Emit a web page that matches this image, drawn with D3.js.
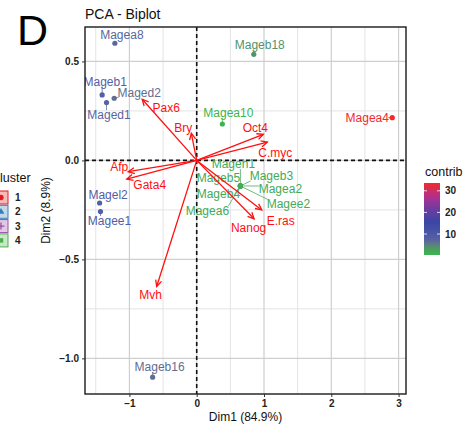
<!DOCTYPE html>
<html><head><meta charset="utf-8">
<script src="https://cdn.jsdelivr.net/npm/d3@7"></script>
<style>body{margin:0;background:#fff} svg{display:block;font-family:"Liberation Sans",Arial,Helvetica,sans-serif}</style>
</head><body><svg id="c" width="466" height="428"></svg>
<script>
// ---------------- data ----------------
const indNames   = ["Magea8","Mageb1","Maged2","Maged1","Magea10","Mageb18","Magea4","Magel2","Magee1","Mageb16",
                    "Mageh1","Mageb5","Mageb3","Magea2","Mageb4","Magee2","Magea6"];
const indDim1    = [-1.216,-1.405,-1.226,-1.34,0.381,0.848,2.906,-1.443,-1.43,-0.655,
                    0.649,0.649,0.649,0.649,0.649,0.649,0.649];
const indDim2    = [0.592,0.331,0.314,0.292,0.184,0.536,0.216,-0.215,-0.258,-1.095,
                    -0.129,-0.129,-0.129,-0.129,-0.129,-0.129,-0.129];
const indContrib = [7.0,8.0,6.2,7.2,0.3,3.9,33.6,8.2,8.1,6.3,1.7,1.7,1.7,1.7,1.7,1.7,1.7];

const varNames = ["Pax6","Bry","Oct4","C.myc","Afp","Gata4","Mvh","E.ras","Nanog"];
const varDim1  = [-0.81,-0.08,0.99,1.05,-1.018,-1.04,-0.595,0.967,0.853];
const varDim2  = [0.309,0.137,0.132,0.092,-0.057,-0.094,-0.637,-0.25,-0.295];

const xTicks = [-1,0,1,2,3];
const yTicks = [-1.0,-0.5,0.0,0.5];
const contribTicks = [10,20,30];
const clusterLevels = ["1","2","3","4"];

// ---------------- layout / style ----------------
const W = 466, H = 428;
const P = {l:85, r:406, t:27, b:394};
const xDom = [-1.66, 3.11], yDom = [-1.18, 0.674];
const gradStops = [
  [0.0,"#3DB54E"],[0.09,"#4A9E62"],[0.17,"#62708F"],[0.22,"#5560A4"],[0.45,"#3A46A4"],
  [0.63,"#6A3CA2"],[0.81,"#B0308E"],[1.0,"#F42A2A"]];
const clusterCols = ["#E41A1C","#377EB8","#984EA3","#4DAF4A"];
// label offsets in px (label centre relative to its point / arrow tip)
const indLabelOff = {
  Magea8:[7,-8.5], Mageb1:[3,-13.5], Maged2:[25,-6], Maged1:[2.5,12],
  Magea10:[6,-11], Mageb18:[6,-10], Magea4:[-25,0.3], Magel2:[8.5,-8], Magee1:[9,9],
  Mageb16:[7,-10], Mageh1:[-7,-22], Mageb5:[-22,-8], Mageb3:[31,-10], Magea2:[40,3],
  Mageb4:[-22,8], Magee2:[48,18], Magea6:[-33,24.5]};
const varLabelOff = {
  Pax6:[24,8], Bry:[-8,-6], Oct4:[-8,-7], "C.myc":[8,10], Afp:[-9,-5],
  Gata4:[23,5.5], Mvh:[-6,8], "E.ras":[19,10.5], Nanog:[-5.5,8.5]};

const svg = d3.select("#c");
const x = d3.scaleLinear().domain(xDom).range([P.l,P.r]);
const y = d3.scaleLinear().domain(yDom).range([P.b,P.t]);

const cmin = d3.min(indContrib), cmax = d3.max(indContrib);
const gradScale = d3.scaleLinear()
  .domain(gradStops.map(s=>cmin + s[0]*(cmax-cmin)))
  .range(gradStops.map(s=>s[1])).interpolate(d3.interpolateRgb);

// clip
svg.append("defs").append("clipPath").attr("id","clip")
  .append("rect").attr("x",P.l).attr("y",P.t).attr("width",P.r-P.l).attr("height",P.b-P.t);

const plot = svg.append("g").attr("clip-path","url(#clip)");

// grid
const xMinor = d3.range(-1.5, 3.6, 1), yMinor = [-1.25,-0.75,-0.25,0.25,0.75];
plot.selectAll(".gxm").data(xMinor).join("line")
  .attr("x1",d=>x(d)).attr("x2",d=>x(d)).attr("y1",P.t).attr("y2",P.b)
  .attr("stroke","#e3e3e3").attr("stroke-width",1);
plot.selectAll(".gym").data(yMinor).join("line")
  .attr("y1",d=>y(d)).attr("y2",d=>y(d)).attr("x1",P.l).attr("x2",P.r)
  .attr("stroke","#e3e3e3").attr("stroke-width",1);
plot.selectAll(".gx").data(xTicks).join("line")
  .attr("x1",d=>x(d)).attr("x2",d=>x(d)).attr("y1",P.t).attr("y2",P.b)
  .attr("stroke","#cfcfcf").attr("stroke-width",1.2);
plot.selectAll(".gy").data(yTicks).join("line")
  .attr("y1",d=>y(d)).attr("y2",d=>y(d)).attr("x1",P.l).attr("x2",P.r)
  .attr("stroke","#cfcfcf").attr("stroke-width",1.2);

// zero lines
plot.append("line").attr("x1",x(0)).attr("x2",x(0)).attr("y1",P.t).attr("y2",P.b)
  .attr("stroke","#111").attr("stroke-width",1.6).attr("stroke-dasharray","4,3");
plot.append("line").attr("y1",y(0)).attr("y2",y(0)).attr("x1",P.l).attr("x2",P.r)
  .attr("stroke","#111").attr("stroke-width",1.6).attr("stroke-dasharray","4,3");

// individuals
const inds = indNames.map((n,i)=>({name:n, d1:indDim1[i], d2:indDim2[i], c:indContrib[i]}));
const segG = plot.append("g");
const ptG = plot.append("g");
const labG = plot.append("g");
inds.forEach(d=>{
  const px = x(d.d1), py = y(d.d2), col = gradScale(d.c);
  ptG.append("circle").attr("cx",px).attr("cy",py).attr("r",2.6).attr("fill",col);
  const off = indLabelOff[d.name];
  const cx = px+off[0], cy = py+off[1];
  const t = labG.append("text").attr("x",cx).attr("y",cy+4.3)
    .attr("text-anchor","middle").attr("font-size",12).attr("fill",col).text(d.name);
  const bb = t.node().getBBox();
  const bx0 = bb.x+1, bx1 = bb.x+bb.width-1, by0 = cy-4.5, by1 = cy+5;
  const nx = Math.max(bx0, Math.min(px, bx1)), ny = Math.max(by0, Math.min(py, by1));
  const dist = Math.hypot(nx-px, ny-py);
  if (dist > 3.5) {
    segG.append("line").attr("x1",px).attr("y1",py).attr("x2",nx).attr("y2",ny)
      .attr("stroke",col).attr("stroke-width",0.9).attr("opacity",0.85);
  }
});

// variables (arrows)
const arrG = plot.append("g");
varNames.forEach((n,i)=>{
  const x0 = x(0), y0 = y(0), x1 = x(varDim1[i]), y1 = y(varDim2[i]);
  const a = Math.atan2(y1-y0, x1-x0), L = 7, ha = Math.PI/7;
  arrG.append("line").attr("x1",x0).attr("y1",y0).attr("x2",x1).attr("y2",y1)
    .attr("stroke","#FF1010").attr("stroke-width",1.3);
  arrG.append("path")
    .attr("d",`M${x1-L*Math.cos(a-ha)},${y1-L*Math.sin(a-ha)}L${x1},${y1}L${x1-L*Math.cos(a+ha)},${y1-L*Math.sin(a+ha)}`)
    .attr("fill","none").attr("stroke","#FF1010").attr("stroke-width",1.3);
  const off = varLabelOff[n];
  arrG.append("text").attr("x",x1+off[0]).attr("y",y1+off[1]+4.3)
    .attr("text-anchor","middle").attr("font-size",12).attr("fill","#FF1010").text(n);
});

// panel border
svg.append("rect").attr("x",P.l).attr("y",P.t).attr("width",P.r-P.l).attr("height",P.b-P.t)
  .attr("fill","none").attr("stroke","#1a1a1a").attr("stroke-width",1.4);

// axes
const xAxis = svg.append("g").attr("transform",`translate(0,${P.b})`)
  .call(d3.axisBottom(x).tickValues(xTicks).tickSize(3).tickPadding(3).tickFormat(d3.format("d")));
const yAxis = svg.append("g").attr("transform",`translate(${P.l},0)`)
  .call(d3.axisLeft(y).tickValues(yTicks).tickSize(3).tickPadding(3).tickFormat(d3.format(".1f")));
[xAxis,yAxis].forEach(g=>{
  g.select(".domain").remove();
  g.selectAll(".tick line").attr("stroke","#333");
  g.selectAll(".tick text").attr("font-size",10).attr("font-weight","bold")
    .attr("fill","#222").attr("font-family","Liberation Sans, Arial, sans-serif");
});

// axis titles
svg.append("text").attr("x",(P.l+P.r)/2).attr("y",421).attr("text-anchor","middle")
  .attr("font-size",12).attr("fill","#111").text("Dim1 (84.9%)");
svg.append("text").attr("transform",`translate(50,${(P.t+P.b)/2}) rotate(-90)`)
  .attr("text-anchor","middle").attr("font-size",12).attr("fill","#111").text("Dim2 (8.9%)");

// title and panel letter
svg.append("text").attr("x",P.l).attr("y",19).attr("font-size",14).attr("fill","#111").text("PCA - Biplot");
svg.append("text").attr("x",17).attr("y",45).attr("font-size",43).attr("fill","#000").text("D");

// contrib legend
const lg = svg.append("g");
lg.append("text").attr("x",425).attr("y",176).attr("font-size",12.5).attr("fill","#111").text("contrib");
const barTop = 183, barBot = 255, bx = 424, bw = 16;
const barScale = d3.scaleLinear().domain([cmin,cmax]).range([barBot,barTop]);
const grad = svg.select("defs").append("linearGradient").attr("id","cg")
  .attr("x1",0).attr("y1",1).attr("x2",0).attr("y2",0);
d3.range(0,1.0001,0.05).forEach(t=>{
  grad.append("stop").attr("offset",t).attr("stop-color",gradScale(cmin+t*(cmax-cmin)));
});
lg.append("rect").attr("x",bx).attr("y",barTop).attr("width",bw).attr("height",barBot-barTop)
  .attr("fill","url(#cg)");
contribTicks.forEach(v=>{
  lg.append("line").attr("x1",bx).attr("x2",bx+3).attr("y1",barScale(v)).attr("y2",barScale(v)).attr("stroke","#fff").attr("stroke-width",0.8);
  lg.append("line").attr("x1",bx+bw-3).attr("x2",bx+bw).attr("y1",barScale(v)).attr("y2",barScale(v)).attr("stroke","#fff").attr("stroke-width",0.8);
  lg.append("text").attr("x",445).attr("y",barScale(v)+3.5).attr("font-size",10)
    .attr("font-weight","bold").attr("fill","#222").text(v);
});

// cluster legend (partly off-canvas, as in the reference)
const cl = svg.append("g");
cl.append("text").attr("x",-9).attr("y",182).attr("font-size",12.5).attr("fill","#111").text("Cluster");
const shapes = [d3.symbolCircle, d3.symbolTriangle, d3.symbolCross, d3.symbolSquare];
clusterLevels.forEach((lv,i)=>{
  const cy = 197.5 + i*14.3;
  cl.append("rect").attr("x",-6).attr("y",cy-6.5).attr("width",14).attr("height",13)
    .attr("fill",clusterCols[i]).attr("fill-opacity",0.3)
    .attr("stroke",clusterCols[i]).attr("stroke-width",1);
  if (i===2) {
    cl.append("path").attr("d",`M1,${cy-3.5}V${cy+3.5}M-2.5,${cy}H4.5`)
      .attr("stroke",clusterCols[i]).attr("stroke-width",1.3);
  } else {
    cl.append("path").attr("d",d3.symbol().type(shapes[i]).size(i===0?22:20)())
      .attr("transform",`translate(1,${cy})`).attr("fill",clusterCols[i]);
  }
  cl.append("text").attr("x",15).attr("y",cy+3.5).attr("font-size",10)
    .attr("font-weight","bold").attr("fill","#222").text(lv);
});
</script></body></html>
